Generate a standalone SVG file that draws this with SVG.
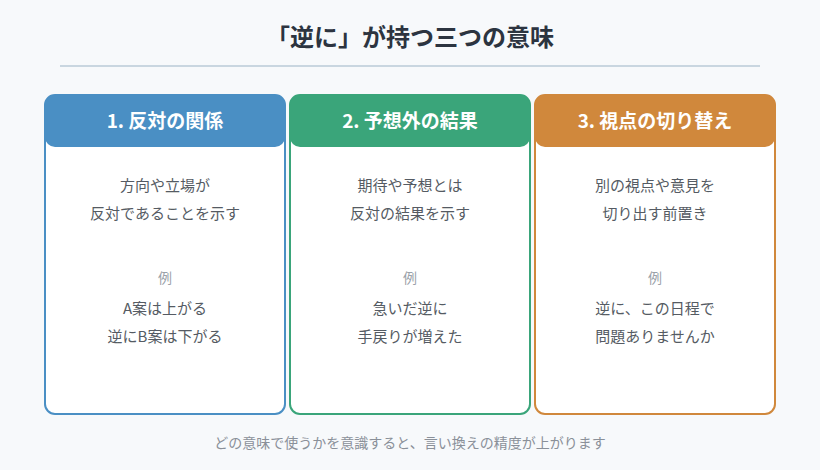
<svg xmlns="http://www.w3.org/2000/svg" width="820" height="470" viewBox="0 0 820 470">
<style>
text{font-family:"Noto Sans CJK JP","Noto Sans",sans-serif;text-anchor:middle}
.t{font-size:24px;font-weight:bold;fill:#2c3440}
.h{font-size:19px;font-weight:bold;fill:#fff}
.b{font-size:15px;fill:#555b63}
.e{font-size:14px;fill:#9aa1a9}
.f{font-size:14px;fill:#8a9099}
</style>
<rect width="820" height="470" fill="#f7f9fb"/>
<text class="t" x="410" y="46">「逆に」が持つ三つの意味</text>
<line x1="60" y1="66" x2="760" y2="66" stroke="#c9d6e0" stroke-width="2"/>
<g id="card1">
<rect x="45" y="95" width="240" height="319" rx="10" fill="#fff" stroke="#4a8fc4" stroke-width="2"/>
<path d="M45 105a10 10 0 0 1 10-10h220a10 10 0 0 1 10 10v32a10 10 0 0 1-10 10H55a10 10 0 0 1-10-10z" fill="#4a8fc4"/>
<text class="h" x="165" y="128">1. 反対の関係</text>
<text class="b" x="165" y="191">方向や立場が</text>
<text class="b" x="165" y="219">反対であることを示す</text>
<text class="e" x="165" y="283">例</text>
<text class="b" x="165" y="314">A案は上がる</text>
<text class="b" x="165" y="342">逆にB案は下がる</text>
</g>
<g id="card2">
<rect x="290" y="95" width="240" height="319" rx="10" fill="#fff" stroke="#3aa57a" stroke-width="2"/>
<path d="M290 105a10 10 0 0 1 10-10h220a10 10 0 0 1 10 10v32a10 10 0 0 1-10 10H300a10 10 0 0 1-10-10z" fill="#3aa57a"/>
<text class="h" x="410" y="128">2. 予想外の結果</text>
<text class="b" x="410" y="191">期待や予想とは</text>
<text class="b" x="410" y="219">反対の結果を示す</text>
<text class="e" x="410" y="283">例</text>
<text class="b" x="410" y="314">急いだ逆に</text>
<text class="b" x="410" y="342">手戻りが増えた</text>
</g>
<g id="card3">
<rect x="535" y="95" width="240" height="319" rx="10" fill="#fff" stroke="#d0883c" stroke-width="2"/>
<path d="M535 105a10 10 0 0 1 10-10h220a10 10 0 0 1 10 10v32a10 10 0 0 1-10 10H545a10 10 0 0 1-10-10z" fill="#d0883c"/>
<text class="h" x="655" y="128">3. 視点の切り替え</text>
<text class="b" x="655" y="191">別の視点や意見を</text>
<text class="b" x="655" y="219">切り出す前置き</text>
<text class="e" x="655" y="283">例</text>
<text class="b" x="655" y="314">逆に、この日程で</text>
<text class="b" x="655" y="342">問題ありませんか</text>
</g>
<g id="connectors"/>
<text class="f" x="410" y="448">どの意味で使うかを意識すると、言い換えの精度が上がります</text>
</svg>
